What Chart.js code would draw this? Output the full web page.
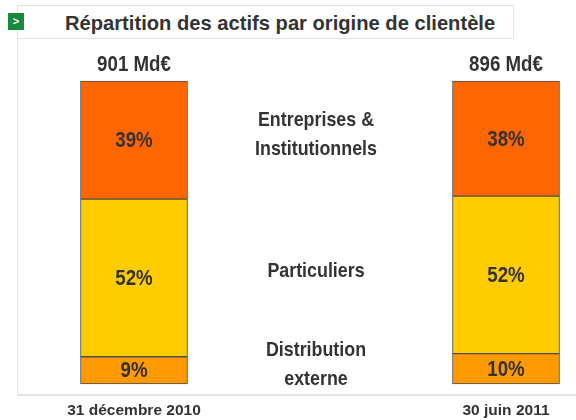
<!DOCTYPE html>
<html lang="fr">
<head>
<meta charset="UTF-8">
<title>Répartition des actifs par origine de clientèle</title>
<script src="https://cdn.jsdelivr.net/npm/chart.js"></script>
<style>
    body {
        margin: 0;
        background: #fff;
        font-family: "Liberation Sans", Arial, sans-serif;
    }
    .slide {
        position: relative;
        width: 576px;
        height: 420px;
        overflow: hidden;
    }
    .cadre {
        position: absolute;
        left: 17px;
        top: 5px;
        width: 580px;
        height: 389px;
        border-left: 1px solid #e3e3e3;
        border-bottom: 2px solid #e3e3e3;
    }
    .titre {
        position: absolute;
        left: 17px;
        top: 5px;
        width: 497px;
        height: 34px;
        border: 1px solid #e3e3e3;
        background: #fff;
        color: #333;
        font-weight: bold;
        font-size: 21px;
        line-height: 34px;
        text-align: center;
        padding-left: 30px;
        box-sizing: border-box;
    }
    .titre span {
        display: inline-block;
        transform: scaleX(0.96);
    }
    .puce {
        position: absolute;
        left: 8px;
        top: 13px;
        width: 16px;
        height: 17px;
        background: #178a3d;
        color: #fff;
        font: bold 11px "Liberation Sans", Arial, sans-serif;
        line-height: 16px;
        text-align: center;
    }
    canvas {
        position: absolute;
        left: 0;
        top: 0;
    }
</style>
</head>
<body>
<div class="slide">
    <div class="cadre"></div>
    <div class="titre"><span>Répartition des actifs par origine de clientèle</span></div>
    <div class="puce">&gt;</div>
    <canvas id="graphique" width="576" height="420"></canvas>
</div>

<script>
    // dates des deux arrêtés et encours totaux
    const periodes = ['31 décembre 2010', '30 juin 2011'];
    const totaux = [901, 896];

    // répartition en % par origine de clientèle
    const entreprises = [39, 38];
    const particuliers = [52, 52];
    const distribution = [9, 10];

    const nomsClientele = [
        ['Entreprises &', 'Institutionnels'],
        ['Particuliers'],
        ['Distribution', 'externe']
    ];

    const police = '"Liberation Sans", Arial, sans-serif';
    const texte = '#333333';

    // texte gras un peu resserré horizontalement
    function ecrire(ctx, txt, x, y, taille) {
        ctx.save();
        ctx.font = 'bold ' + taille + 'px ' + police;
        ctx.translate(x, y);
        ctx.scale(0.85, 1);
        ctx.fillText(txt, 0, 0);
        ctx.restore();
    }

    // pourcentages dans les barres, totaux au-dessus, libellés au centre
    const etiquettes = {
        id: 'etiquettes',
        afterDatasetsDraw(chart) {
            const ctx = chart.ctx;
            ctx.save();
            ctx.fillStyle = texte;
            ctx.textAlign = 'center';
            ctx.textBaseline = 'middle';

            chart.data.datasets.forEach((ds, i) => {
                const meta = chart.getDatasetMeta(i);
                meta.data.forEach((bar, j) => {
                    const milieu = (bar.y + bar.base) / 2;
                    ecrire(ctx, ds.data[j] + '%', bar.x, milieu + 1, 22);
                });

                // nom de la clientèle entre les deux barres
                const centres = meta.data.map(b => (b.y + b.base) / 2);
                const yc = centres.reduce((a, b) => a + b, 0) / centres.length - 5;
                const lignes = nomsClientele[ds.ordreNom];
                const interligne = 29;
                const x = (chart.chartArea.left + chart.chartArea.right) / 2;
                lignes.forEach((l, k) => {
                    ecrire(ctx, l, x - 4, yc + (k - (lignes.length - 1) / 2) * interligne, 21);
                });
            });

            // totaux au-dessus de chaque barre
            const haut = chart.getDatasetMeta(chart.data.datasets.length - 1);
            haut.data.forEach((bar, j) => {
                ecrire(ctx, totaux[j] + ' Md€', bar.x, bar.y - 16, 22);
            });
            ctx.restore();
        }
    };

    const bordure = '#4d4d4d';

    new Chart(document.getElementById('graphique'), {
        type: 'bar',
        data: {
            labels: periodes,
            datasets: [
                { label: 'Distribution externe', data: distribution, backgroundColor: '#ff9900', ordreNom: 2 },
                { label: 'Particuliers', data: particuliers, backgroundColor: '#ffcc00', ordreNom: 1 },
                { label: 'Entreprises & Institutionnels', data: entreprises, backgroundColor: '#ff6600', ordreNom: 0 }
            ].map(d => Object.assign(d, {
                borderColor: bordure,
                borderWidth: 1,
                borderSkipped: false,
                barThickness: 107,
                clip: false
            }))
        },
        options: {
            responsive: false,
            animation: false,
            layout: { padding: { left: 134, right: 70, top: 81, bottom: 0 } },
            plugins: {
                legend: { display: false },
                tooltip: { enabled: false }
            },
            scales: {
                x: {
                    stacked: true,
                    offset: false,
                    grid: { display: false, drawTicks: false },
                    border: { display: false },
                    afterFit(scale) { scale.height = 36; },
                    ticks: {
                        color: texte,
                        padding: 17,
                        maxRotation: 0,
                        font: { family: police, size: 15.5, weight: 'bold' }
                    }
                },
                y: {
                    stacked: true,
                    min: 0,
                    max: 100,
                    display: false
                }
            }
        },
        plugins: [etiquettes]
    });
</script>
</body>
</html>
